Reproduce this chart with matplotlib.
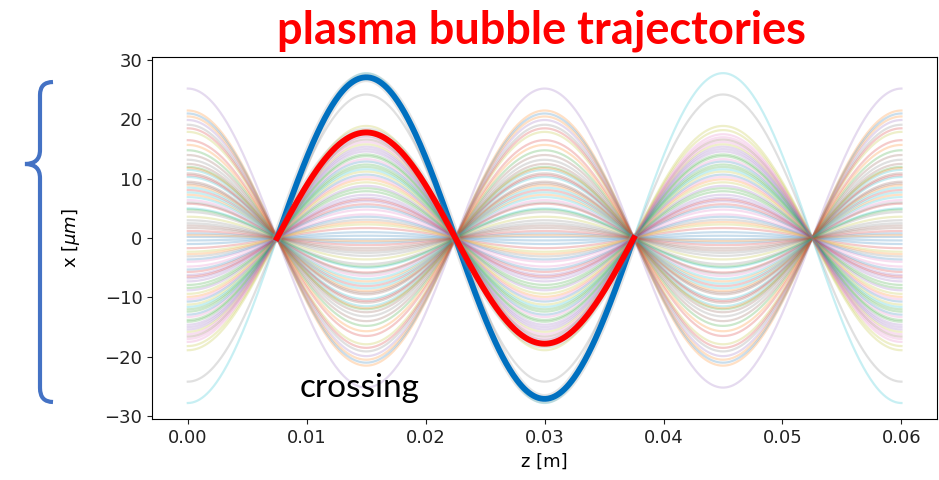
import numpy as np
import matplotlib
matplotlib.use("Agg")
import matplotlib.pyplot as plt
from matplotlib.path import Path
from matplotlib.patches import PathPatch

# betatron period and z range of the simulation
PERIOD = 0.03
Z_START, Z_END = 0.0, 0.06

# signed amplitudes (x at z=0) of the faint trajectories, in um
amplitudes = [
    0.2, 21.5, 14.8, -5.7, 25.2, 9.5, -13.3, -24.2, 3.6, -27.8,
    21.0, -9.9, 12.0, -1.7, 19.9, -16.6, 6.4, -3.1, 17.9, -11.6,
    0.8, 20.5, -7.9, 16.5, -15.0, 10.9, -4.8, 19.1, -18.9, 5.0,
    -0.4, 15.7, -12.4, 8.1, -6.8, 14.0, -17.5, 2.5, -2.3, 11.5,
    -10.7, 7.3, -14.1, 18.5, -8.8, 1.7, -4.0, 13.2, -15.8, 10.3,
    -1.0, 8.9, -12.0, 5.8, -6.2, 12.5, -17.0, 3.0, -9.4, 6.9,
    -3.6, 11.8, -13.8, 1.2, -7.3, 9.2, -16.2, 4.4, -11.2, 7.7,
    -5.3, 0.5, -8.4, 10.6, -14.6, 2.1, -10.3, 6.0, -18.2, 8.5,
    -12.9, -2.7, 4.8, -6.5, -15.4,
]

# highlighted trajectories: amplitude and z span
blue_amp, blue_span = -27.1, (0.0075, 0.0375)
red_amp, red_span = -17.8, (0.0075, 0.0375)

fig = plt.figure(figsize=(9.39, 4.8), dpi=100)
ax = fig.add_axes([0.162, 0.127, 0.836, 0.754])

z = np.linspace(Z_START, Z_END, 600)
for a in amplitudes:
    ax.plot(z, a * np.cos(2 * np.pi * z / PERIOD), lw=1.6, alpha=0.24)

for amp, span, col in [(blue_amp, blue_span, "#0070C0"), (red_amp, red_span, "#FF0000")]:
    zz = np.linspace(span[0], span[1], 300)
    xx = amp * np.cos(2 * np.pi * zz / PERIOD)
    ax.plot(zz, xx, color="#999999", lw=7, alpha=0.25, solid_capstyle="round")
    ax.plot(zz, xx, color=col, lw=4.2)

ax.set_xlim(-0.003, 0.063)
ax.set_ylim(-30.5, 30.5)
ax.set_yticks([-30, -20, -10, 0, 10, 20, 30])
ax.set_xticks([0.0, 0.01, 0.02, 0.03, 0.04, 0.05, 0.06])
ax.set_xticklabels(["0.00", "0.01", "0.02", "0.03", "0.04", "0.05", "0.06"])
ax.tick_params(labelsize=13, colors="#222222")
ax.set_xlabel("z [m]", fontsize=13)
ax.set_ylabel(r"x [$\mu m$]", fontsize=13, labelpad=16)

ax.text(0.01447, -25.2, "crossing", fontsize=24, family="Lato",
        ha="center", va="center")

fig.text(0.577, 0.935, "plasma bubble trajectories", fontsize=32.5,
         family="Lato", weight="bold", color="#FF0000",
         ha="center", va="center")

# blue curly brace on the left (pixel coords converted to figure fraction)
W, H = 939.0, 480.0
pts = [(53, 82), (40, 82), (40, 95),
       (40, 150),
       (40, 164), (25, 164),
       (40, 164), (40, 178),
       (40, 388),
       (40, 402), (53, 402)]
codes = [Path.MOVETO, Path.CURVE3, Path.CURVE3,
         Path.LINETO,
         Path.CURVE3, Path.CURVE3,
         Path.CURVE3, Path.CURVE3,
         Path.LINETO,
         Path.CURVE3, Path.CURVE3]
verts = [(px / W, 1 - py / H) for px, py in pts]
brace = PathPatch(Path(verts, codes), transform=fig.transFigure,
                  fill=False, edgecolor="#4472C4", lw=3)
fig.patches.append(brace)

fig.savefig("out.png", dpi=100)
